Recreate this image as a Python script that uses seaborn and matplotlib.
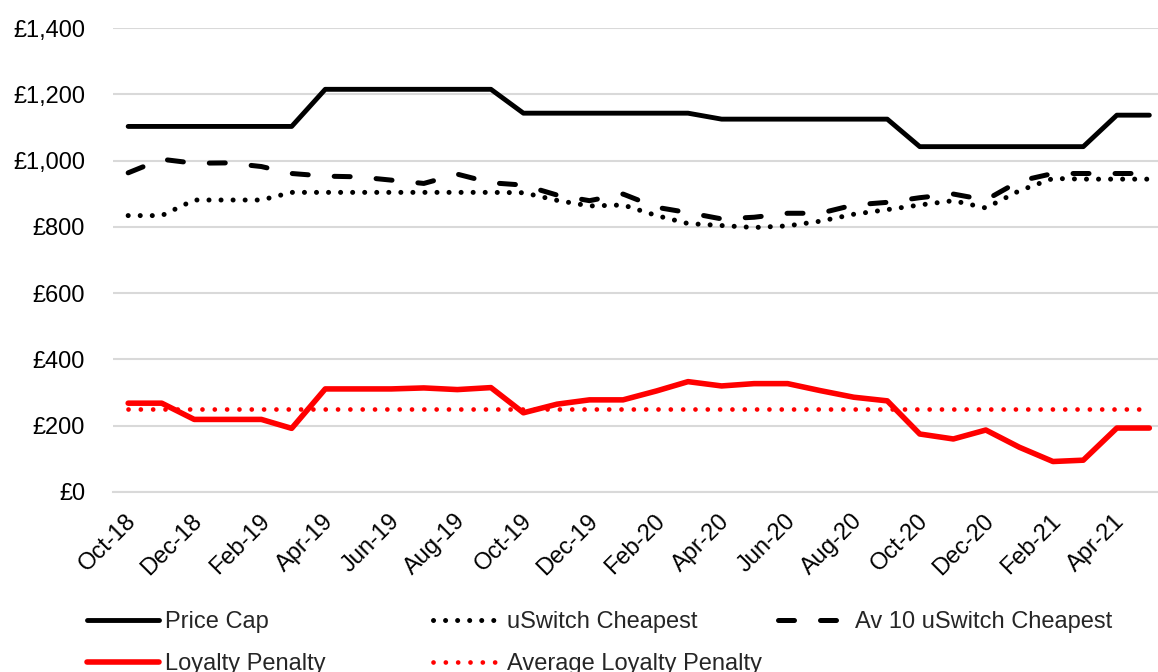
import numpy as np
import pandas as pd
import matplotlib
matplotlib.use("Agg")
import matplotlib.pyplot as plt
import matplotlib.dates as mdates
from matplotlib.ticker import FuncFormatter, MultipleLocator
from matplotlib.transforms import ScaledTranslation
import seaborn as sns

# Monthly observations (mid-month), Oct-18 to May-21
months = pd.date_range("2018-10-01", "2021-05-01", freq="MS") + pd.Timedelta(days=14)

price_cap = [1103, 1103, 1103, 1103, 1103, 1103,
             1215, 1215, 1215, 1215, 1215, 1215,
             1143, 1143, 1143, 1143, 1143, 1143,
             1125, 1125, 1125, 1125, 1125, 1125,
             1042, 1042, 1042, 1042, 1042, 1042,
             1137, 1137]

uswitch_cheapest = [834, 834, 881, 881, 881, 904, 904, 904, 904, 904, 904, 904,
                    903, 880, 863, 866, 834, 810, 804, 798, 803, 817, 838, 852,
                    866, 879, 857, 909, 946, 944, 944, 944]

av10_uswitch = [963, 1004, 992, 993, 982, 961, 953, 951, 941, 931, 959, 933,
                926, 896, 879, 899, 859, 843, 824, 829, 841, 841, 866, 874,
                888, 899, 881, 938, 961, 961, 961, 961]

loyalty_penalty = [268, 268, 219, 219, 219, 192, 311, 311, 311, 314, 309, 315,
                   239, 265, 278, 278, 305, 333, 320, 327, 327, 306, 286, 275,
                   175, 160, 187, 135, 92, 96, 193, 193]

avg_penalty = float(np.mean(loyalty_penalty))

df = pd.DataFrame({
    "month": months,
    "Price Cap": price_cap,
    "uSwitch Cheapest": uswitch_cheapest,
    "Av 10 uSwitch Cheapest": av10_uswitch,
    "Loyalty Penalty": loyalty_penalty,
    "Average Loyalty Penalty": avg_penalty,
})

sns.set_style("white")
plt.rcParams["font.family"] = ["Liberation Sans", "DejaVu Sans"]

W, H = 1158, 672
fig = plt.figure(figsize=(W / 100, H / 100), dpi=100)
ax = fig.add_axes([113 / W, 180 / H, 1 - 113 / W, 464 / H])

styles = {
    "Price Cap": dict(color="black", linewidth=3.5),
    "uSwitch Cheapest": dict(color="black", linewidth=3.6,
                             linestyle=(0, (0.01, 2.4)), dash_capstyle="round"),
    "Av 10 uSwitch Cheapest": dict(color="black", linewidth=3.6,
                                   linestyle=(0, (3.2, 5.2)), dash_capstyle="round"),
    "Loyalty Penalty": dict(color="#ff0000", linewidth=4.0),
    "Average Loyalty Penalty": dict(color="#ff0000", linewidth=3.4,
                                    linestyle=(0, (0.01, 2.6)), dash_capstyle="round"),
}

handles = {}
for name, kw in styles.items():
    sns.lineplot(data=df, x="month", y=name, ax=ax, label=name, **kw)
    handles[name] = ax.get_lines()[-1]
if ax.get_legend() is not None:
    ax.get_legend().remove()

# Axes ranges and ticks
ax.set_ylim(0, 1400)
ax.yaxis.set_major_locator(MultipleLocator(200))
ax.yaxis.set_major_formatter(FuncFormatter(lambda v, p: f"£{v:,.0f}"))
ax.set_xlim(pd.Timestamp("2018-10-01"), pd.Timestamp("2021-05-23"))
tick_dates = pd.date_range("2018-10-01", "2021-04-01", freq="2MS")
ax.set_xticks(tick_dates)
ax.xaxis.set_major_formatter(mdates.DateFormatter("%b-%y"))
ax.set_xlabel("")
ax.set_ylabel("")

grid_c = "#d9d9d9"
ax.yaxis.grid(True, color=grid_c, linewidth=1.5)
ax.xaxis.grid(False)
for s in ["left", "right", "top"]:
    ax.spines[s].set_visible(False)
ax.spines["bottom"].set_color(grid_c)
ax.spines["bottom"].set_linewidth(1.5)
ax.tick_params(axis="y", length=0, pad=20, labelsize=17, labelcolor="black")
ax.tick_params(axis="x", length=7, width=1.5, color=grid_c, direction="out",
               pad=0, labelsize=17, labelcolor="black")

offset = ScaledTranslation(0.20, -0.16, fig.dpi_scale_trans)
for lab in ax.get_xticklabels():
    lab.set_rotation(45)
    lab.set_ha("right")
    lab.set_va("center")
    lab.set_rotation_mode("anchor")
    lab.set_transform(lab.get_transform() + offset)

# Legend laid out in three columns
leg_kw = dict(loc="upper left", frameon=False, fontsize=17, labelspacing=0.85,
              borderpad=0, borderaxespad=0)
top = 1 - 611 / H
cols = [
    (["Price Cap", "Loyalty Penalty"], 87, 3.05, 0.25),
    (["uSwitch Cheapest", "Average Loyalty Penalty"], 433, 2.7, 0.45),
    (["Av 10 uSwitch Cheapest"], 778, 2.5, 0.75),
]
for names, x0, hl, tp in cols:
    fig.legend(handles=[handles[n] for n in names], labels=names,
               bbox_to_anchor=(x0 / W, top), handlelength=hl,
               handletextpad=tp, **leg_kw)

fig.savefig("out.png", dpi=100)
